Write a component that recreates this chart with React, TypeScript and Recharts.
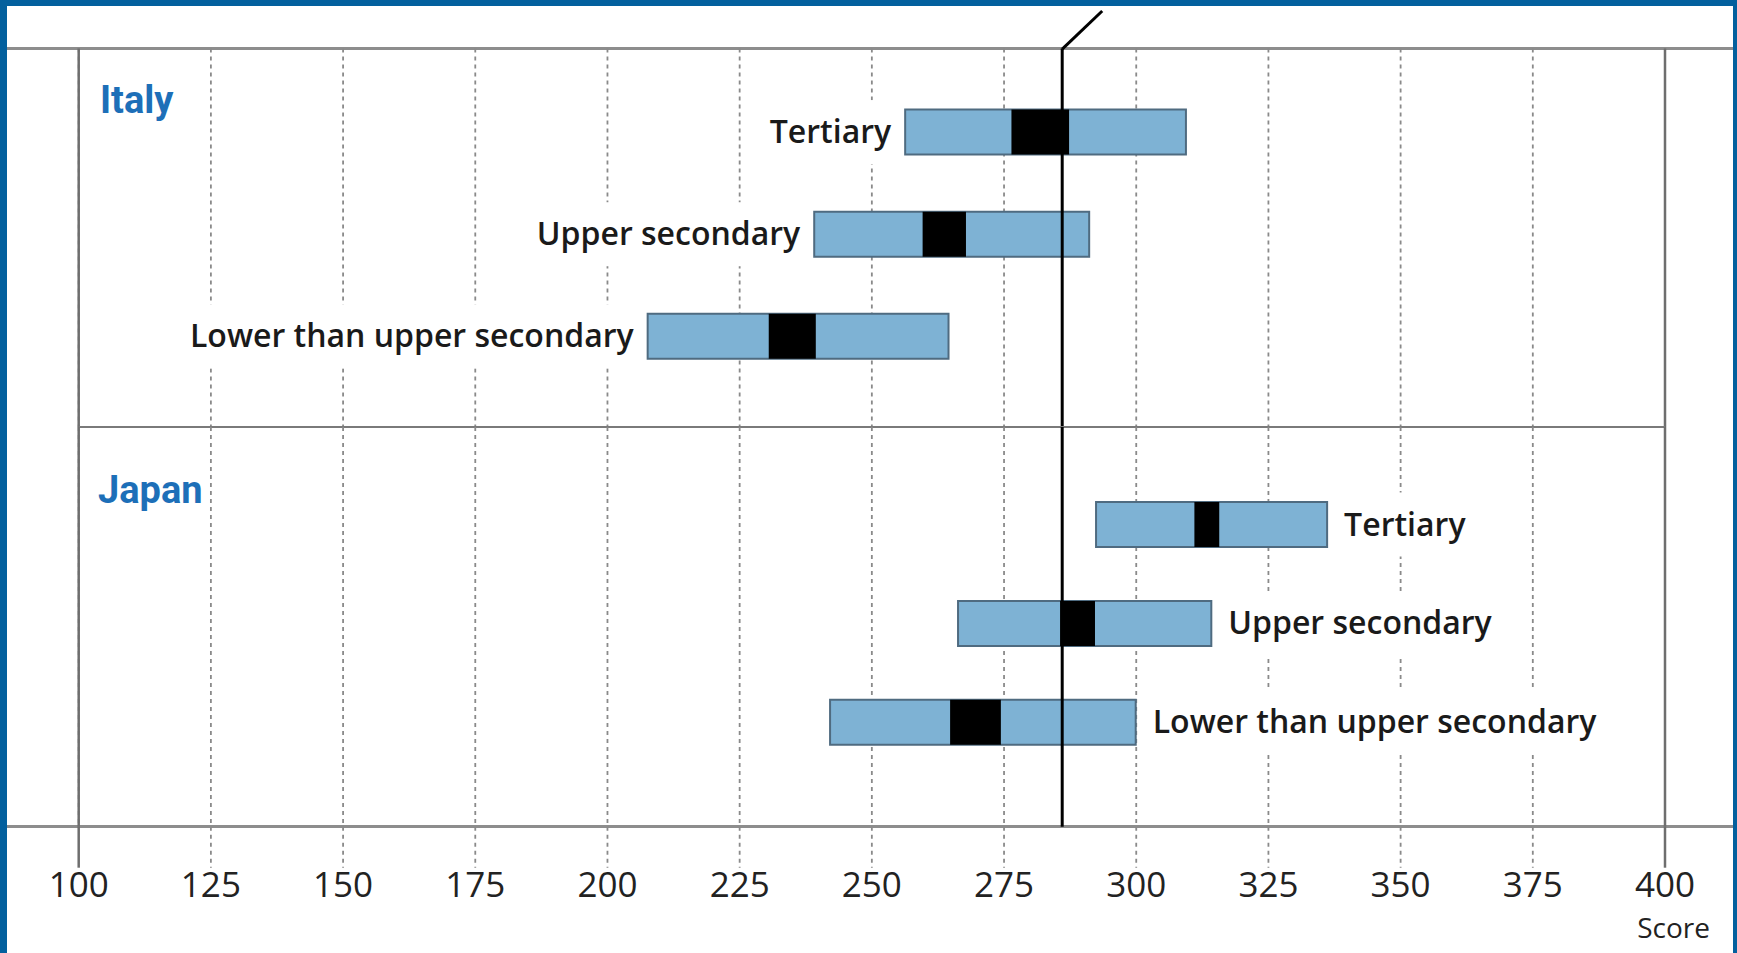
import React from 'react';
import { BarChart, Bar, XAxis, YAxis, CartesianGrid, ReferenceLine, LabelList, Customized } from 'recharts';

const levels = ['Tertiary', 'Upper secondary', 'Lower than upper secondary'];

// box = range of scores, mean = black band
const italyLow = [256.3, 239.1, 207.6];
const italyHigh = [309.4, 291.1, 264.5];
const italyMeanLow = [276.4, 259.6, 230.5];
const italyMeanHigh = [287.3, 267.8, 239.4];

const japanLow = [292.4, 266.3, 242.1];
const japanHigh = [336.1, 314.2, 299.9];
const japanMeanLow = [311.0, 285.6, 264.8];
const japanMeanHigh = [315.7, 292.2, 274.4];

const average = 286;
const scoreTicks = [100, 125, 150, 175, 200, 225, 250, 275, 300, 325, 350, 375, 400];

const build = (low: number[], high: number[], mLow: number[], mHigh: number[]) =>
  levels.map((level, i) => ({ level, box: [low[i], high[i]], mean: [mLow[i], mHigh[i]] }));

const italy = build(italyLow, italyHigh, italyMeanLow, italyMeanHigh);
const japan = build(japanLow, japanHigh, japanMeanLow, japanMeanHigh);

const W = 1737;
const MARGIN_L = 78.7;
const MARGIN_R = W - 1665;
const GRID = '#8a8a8a';
const EDGE = '#6e6e6e';
const LABEL_FONT = '600 32px "Open Sans"';

let ctx: CanvasRenderingContext2D | null = null;
const measure = (text: string) => {
  if (!ctx) ctx = document.createElement('canvas').getContext('2d');
  if (!ctx) return text.length * 16;
  ctx.font = LABEL_FONT;
  return ctx.measureText(text).width;
};

const makeLabel = (side: 'left' | 'right') => (props: any) => {
  const vb = props.viewBox && props.viewBox.width !== undefined ? props.viewBox : props;
  const { x, y, width, height } = vb;
  const value = String(props.value);
  const w = measure(value);
  const cy = y + height / 2;
  const tx = side === 'left' ? x - 14 : x + width + 17;
  const rx = side === 'left' ? tx - w - 5 : tx - 5;
  return (
    <g>
      <rect x={rx} y={cy - 32} width={w + 10} height={64} fill="#fff" />
      <text
        x={tx}
        y={cy + 11}
        textAnchor={side === 'left' ? 'end' : 'start'}
        fontFamily="Open Sans"
        fontWeight={600}
        fontSize={32}
        fill="#1a1a1a"
      >
        {value}
      </text>
    </g>
  );
};

const avgShape = (props: any) => {
  const { x1, y1, x2, y2 } = props;
  const top = Math.min(y1, y2);
  return (
    <g>
      <line x1={x1} y1={y1} x2={x2} y2={y2} stroke="#000" strokeWidth={3} />
      <line x1={x1} y1={top + 0.5} x2={x1 + 40} y2={11} stroke="#000" strokeWidth={3} />
    </g>
  );
};

const noTick = () => <g />;

const renderTick = (props: any) => {
  const { x, y, payload } = props;
  const edge = payload.value === 100 || payload.value === 400;
  return (
    <g>
      <line
        x1={x}
        x2={x}
        y1={y}
        y2={y + 41}
        stroke={edge ? EDGE : GRID}
        strokeWidth={edge ? 2.5 : 1.8}
        strokeDasharray={edge ? undefined : '4 4'}
      />
      <text x={x} y={y + 70} textAnchor="middle" fontFamily="Open Sans" fontSize={35} fill="#222">
        {payload.value}
      </text>
      {payload.value === 400 && (
        <text x={x + 45} y={y + 111} textAnchor="end" fontFamily="Open Sans" fontSize={28} fill="#222">
          Score
        </text>
      )}
    </g>
  );
};

const countryLabel = (name: string, x: number, y: number) => () => (
  <text x={x} y={y} fontFamily="Roboto" fontWeight={700} fontSize={38} fill="#1d6fb8">
    {name}
  </text>
);

const App = () => {
  return (
    <div style={{ position: 'absolute', left: 0, top: 0, width: W, height: 953, background: '#03609e', overflow: 'hidden' }}>
      <div style={{ position: 'absolute', left: 7, top: 6, width: 1726, height: 947, background: '#fff' }} />
      <div style={{ position: 'absolute', left: 7, top: 47.1, width: 1726, height: 3, background: '#8d8d8d' }} />
      <div style={{ position: 'absolute', left: 7, top: 825.2, width: 1726, height: 3, background: '#8d8d8d' }} />

      <div style={{ position: 'absolute', left: 0, top: 0 }}>
        <BarChart
          layout="vertical"
          width={W}
          height={429}
          data={italy}
          margin={{ top: 48.6, right: MARGIN_R, bottom: 0, left: MARGIN_L }}
          barSize={45}
          barGap={-45}
        >
          <CartesianGrid horizontal={false} stroke={GRID} strokeDasharray="4 4" strokeWidth={1.8} />
          <XAxis
            type="number"
            domain={[100, 400]}
            ticks={scoreTicks}
            interval={0}
            tick={noTick}
            tickLine={false}
            tickSize={0}
            height={2}
            axisLine={{ stroke: '#7a7a7a', strokeWidth: 2 }}
          />
          <YAxis type="category" dataKey="level" hide width={0} padding={{ top: 32, bottom: 40 }} />
          <ReferenceLine x={100} stroke={EDGE} strokeWidth={2.5} />
          <ReferenceLine x={400} stroke={EDGE} strokeWidth={2.5} />
          <Bar dataKey="box" fill="#7eb2d4" stroke="#4f6b80" strokeWidth={2} isAnimationActive={false}>
            <LabelList dataKey="level" content={makeLabel('left')} />
          </Bar>
          <Bar dataKey="mean" fill="#000" isAnimationActive={false} />
          <ReferenceLine x={average} shape={avgShape} />
          <Customized component={countryLabel('Italy', 100, 112.6)} />
        </BarChart>
      </div>

      <div style={{ position: 'absolute', left: 0, top: 427 }}>
        <BarChart
          layout="vertical"
          width={W}
          height={526}
          data={japan}
          margin={{ top: 0, right: MARGIN_R, bottom: 0, left: MARGIN_L }}
          barSize={45}
          barGap={-45}
        >
          <CartesianGrid horizontal={false} stroke={GRID} strokeDasharray="4 4" strokeWidth={1.8} />
          <XAxis
            type="number"
            domain={[100, 400]}
            ticks={scoreTicks}
            interval={0}
            axisLine={false}
            tickLine={false}
            tickSize={0}
            tickMargin={0}
            height={126.3}
            tick={renderTick}
          />
          <YAxis type="category" dataKey="level" hide width={0} padding={{ top: 48, bottom: 55 }} />
          <ReferenceLine x={100} stroke={EDGE} strokeWidth={2.5} />
          <ReferenceLine x={400} stroke={EDGE} strokeWidth={2.5} />
          <Bar dataKey="box" fill="#7eb2d4" stroke="#4f6b80" strokeWidth={2} isAnimationActive={false}>
            <LabelList dataKey="level" content={makeLabel('right')} />
          </Bar>
          <Bar dataKey="mean" fill="#000" isAnimationActive={false} />
          <ReferenceLine x={average} stroke="#000" strokeWidth={3} />
          <Customized component={countryLabel('Japan', 98, 76.3)} />
        </BarChart>
      </div>
    </div>
  );
};

export default App;
